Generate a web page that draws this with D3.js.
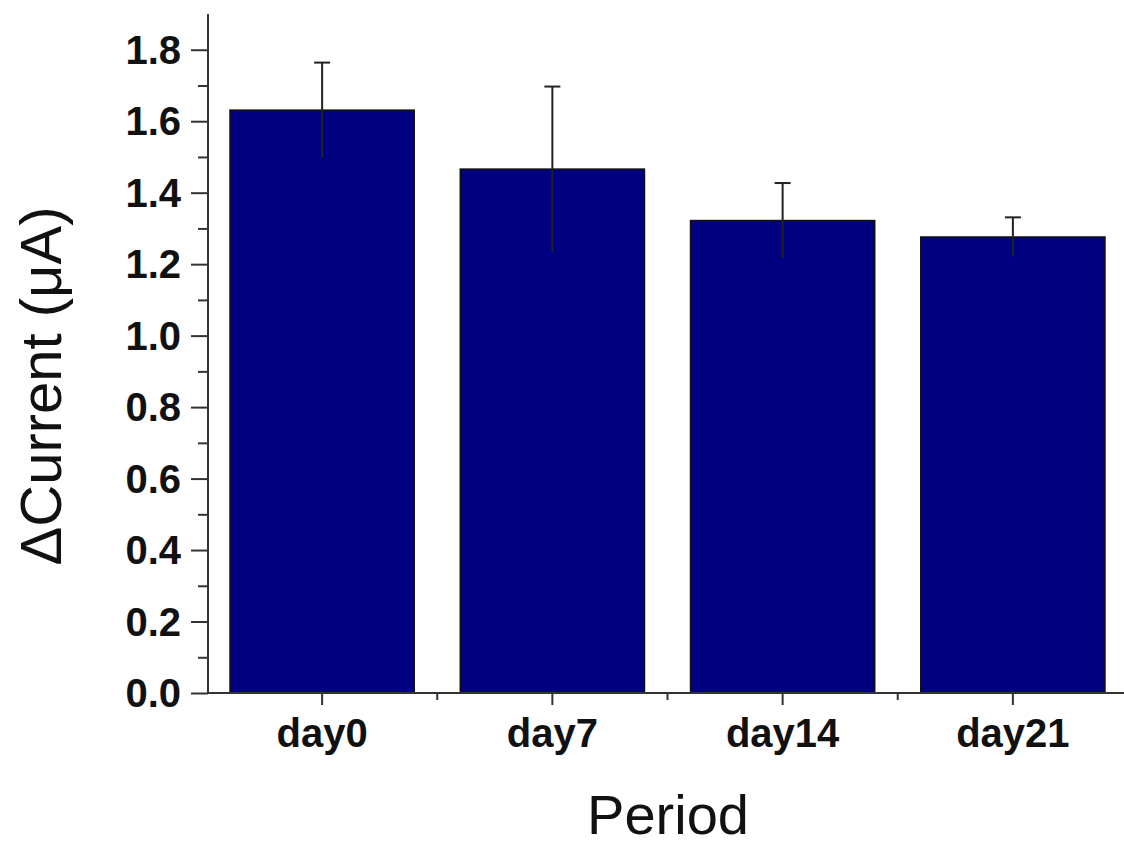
<!DOCTYPE html>
<html>
<head>
<meta charset="utf-8">
<script src="https://cdn.jsdelivr.net/npm/d3@7"></script>
<style>
  html, body { margin: 0; padding: 0; background: #fff; }
  svg { display: block; }
</style>
</head>
<body>
<script>
const categories = ["day0", "day7", "day14", "day21"];
const values = [1.631, 1.466, 1.322, 1.276];
const errors = [0.133, 0.231, 0.105, 0.055];
const yTicks = [0.0, 0.2, 0.4, 0.6, 0.8, 1.0, 1.2, 1.4, 1.6, 1.8];
const yMinorTicks = [0.1, 0.3, 0.5, 0.7, 0.9, 1.1, 1.3, 1.5, 1.7];
const yTitle = "\u0394Current (\u03bcA)";
const xTitle = "Period";

const W = 1124, H = 846;
const svg = d3.select("body").append("svg").attr("width", W).attr("height", H);

const x = d3.scaleBand().domain(categories).range([207, 1128]).paddingInner(0.2).paddingOuter(0.1);
const y = d3.scaleLinear().domain([0, 1.9]).range([693, 14]);

const axisColor = "#333";
const tickFont = "'Liberation Sans', Arial, sans-serif";

// bars
svg.append("g").selectAll("rect").data(categories).join("rect")
  .attr("x", d => x(d))
  .attr("width", x.bandwidth())
  .attr("y", (d, i) => y(values[i]))
  .attr("height", (d, i) => y(0) - y(values[i]))
  .attr("fill", "#000080")
  .attr("stroke", "#111")
  .attr("stroke-width", 1.5);

// error bars
const eg = svg.append("g").attr("stroke", "#222").attr("stroke-width", 2);
categories.forEach((c, i) => {
  const cx = x(c) + x.bandwidth() / 2;
  eg.append("line").attr("x1", cx).attr("x2", cx)
    .attr("y1", y(values[i] + errors[i])).attr("y2", y(values[i] - errors[i]));
  eg.append("line").attr("x1", cx - 8).attr("x2", cx + 8)
    .attr("y1", y(values[i] + errors[i])).attr("y2", y(values[i] + errors[i]));
});

// y axis
const yAxis = d3.axisLeft(y).tickValues(yTicks).tickFormat(d3.format(".1f")).tickSize(17).tickPadding(10);
const gy = svg.append("g").attr("transform", "translate(208,0)").call(yAxis);
gy.select(".domain").remove();
gy.append("line").attr("x1", 0).attr("x2", 0).attr("y1", y(1.9)).attr("y2", y(0) + 1)
  .attr("stroke", axisColor).attr("stroke-width", 2);
gy.selectAll(".tick line").attr("stroke", axisColor).attr("stroke-width", 2);
gy.selectAll(".tick text").attr("fill", "#111").style("font-family", tickFont)
  .style("font-weight", "bold").style("font-size", "40px").attr("dy", "0.34em");
const yMinor = d3.axisLeft(y).tickValues(yMinorTicks).tickSize(10).tickFormat("");
const gym = svg.append("g").attr("transform", "translate(208,0)").call(yMinor);
gym.select(".domain").remove();
gym.selectAll(".tick line").attr("stroke", axisColor).attr("stroke-width", 2);

// x axis
const xAxis = d3.axisBottom(x).tickSize(12).tickPadding(14);
const gx = svg.append("g").attr("transform", "translate(0,693)").call(xAxis);
gx.select(".domain").remove();
gx.append("line").attr("x1", 207).attr("x2", 1128).attr("y1", 0).attr("y2", 0)
  .attr("stroke", axisColor).attr("stroke-width", 2);
gx.selectAll(".tick line").attr("stroke", axisColor).attr("stroke-width", 2);
gx.selectAll(".tick text").attr("fill", "#111").style("font-family", tickFont)
  .style("font-weight", "bold").style("font-size", "40px");
// minor x ticks between categories
const minorX = categories.map(c => x(c) + x.bandwidth() / 2 + x.step() / 2);
gx.selectAll(".minor").data(minorX).join("line").attr("class", "minor")
  .attr("x1", d => d).attr("x2", d => d).attr("y1", 0).attr("y2", 7)
  .attr("stroke", axisColor).attr("stroke-width", 2);

// titles
svg.append("text").attr("x", 668).attr("y", 834).attr("text-anchor", "middle")
  .style("font-family", tickFont).style("font-size", "56px").attr("fill", "#111").text(xTitle);
svg.append("text").attr("transform", "translate(61,386) rotate(-90)").attr("text-anchor", "middle")
  .style("font-family", tickFont).style("font-size", "58px").attr("fill", "#111").text(yTitle);
</script>
</body>
</html>
